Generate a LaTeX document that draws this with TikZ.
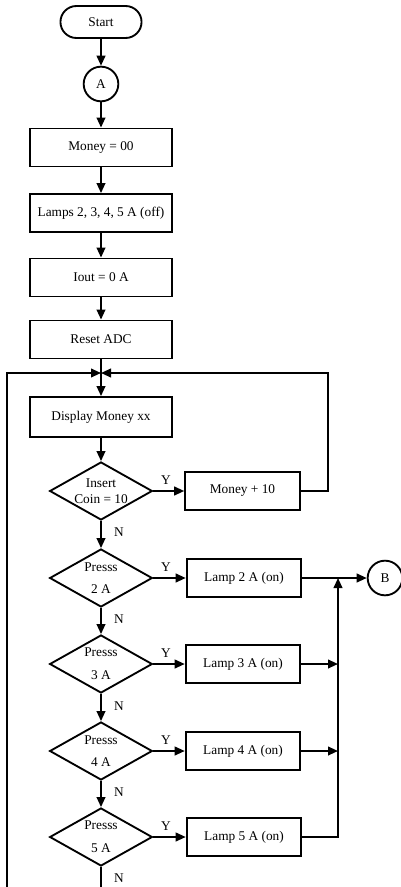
\documentclass[tikz,border=0pt]{standalone}
\usepackage{fontspec}
\setmainfont{Liberation Serif}
\usepackage{tikz}
\usetikzlibrary{shapes,arrows.meta}

\begin{document}
\begin{tikzpicture}[x=0.75pt,y=-0.75pt]
\tikzstyle{term}=[rounded rectangle, minimum width=67.5pt, minimum height=24pt, line width=1.4pt, draw=black]
\tikzstyle{conn}=[circle, minimum size=26pt, inner sep=0pt, line width=1.4pt, draw=black]
\tikzstyle{proc}=[rectangle, minimum width=106pt, minimum height=28.5pt, line width=1.4pt, draw=black]
\tikzstyle{side}=[rectangle, minimum width=86pt, minimum height=28.5pt, line width=1.4pt, draw=black]
\tikzstyle{decision}=[diamond, minimum width=77pt, minimum height=43.5pt, inner sep=0pt, line width=1.4pt, draw=black]
\tikzstyle{lbl}=[inner sep=0pt]
\tikzstyle{flow}=[-{Triangle[length=7.5pt,width=6.5pt]}, line width=1.4pt]
\tikzstyle{wire}=[line width=1.4pt]
\useasboundingbox (0,0) rectangle (400,887);

\node[term] (start) at (101,22) {Start};
\node[conn] (A) at (101,84) {A};
\node[proc] (money) at (101,147.5) {Money = 00};
\node[proc] (lamps) at (101,213) {Lamps 2, 3, 4, 5 A (off)};
\node[proc] (iout) at (101,277.5) {Iout = 0 A};
\node[proc] (reset) at (101,339.5) {Reset ADC};
\coordinate (jn) at (101,373);
\node[proc, minimum height=30pt] (display) at (101,417) {Display Money xx};

\node[decision] (coin) at (101,491) [label={[align=center]center:Insert\\Coin = 10}]{};
\node[side] (add) at (242.5,491) {Money + 10};
\node[decision] (p2) at (101,578) [label={[align=center]center:Presss\\[5pt]2 A}]{};
\node[side] (lamp2) at (244,578) {Lamp 2 A (on)};
\node[conn] (B) at (385,578) {B};
\node[decision] (p3) at (101,664) [label={[align=center]center:Presss\\[5pt]3 A}]{};
\node[side] (lamp3) at (243,664) {Lamp 3 A (on)};
\node[decision] (p4) at (101,751) [label={[align=center]center:Presss\\[5pt]4 A}]{};
\node[side] (lamp4) at (243,751) {Lamp 4 A (on)};
\node[decision] (p5) at (101,837) [label={[align=center]center:Presss\\[5pt]5 A}]{};
\node[side] (lamp5) at (244,837) {Lamp 5 A (on)};

% Y / N marks
\node[lbl] (y1) at (166,480) {Y};
\node[lbl] (y2) at (166,567) {Y};
\node[lbl] (y3) at (166,653) {Y};
\node[lbl] (y4) at (166,740) {Y};
\node[lbl] (y5) at (166,826) {Y};
\node[lbl] (n1) at (119,532) {N};
\node[lbl] (n2) at (119,619) {N};
\node[lbl] (n3) at (119,706) {N};
\node[lbl] (n4) at (119,792) {N};
\node[lbl] (n5) at (119,878) {N};

\coordinate (bus) at (338,578);
\coordinate (bus3) at (338,664);
\coordinate (bus4) at (338,751);
\coordinate (bus5) at (338,837);
\coordinate (back) at (328,373);
\coordinate (endN) at (101,890);
\coordinate (loop) at (7,890);

\draw[flow] (start) -- (A);
\draw[flow] (A) -- (money);
\draw[flow] (money) -- (lamps);
\draw[flow] (lamps) -- (iout);
\draw[flow] (iout) -- (reset);
\draw[wire] (reset) -- (jn);
\draw[flow] (jn) -- (display);
\draw[flow] (display) -- (coin);

\draw[flow] (coin) -- (add);
\draw[flow] (add.east) -| (back) -- (jn);
\draw[flow] (coin) -- (p2);
\draw[flow] (p2) -- (p3);
\draw[flow] (p3) -- (p4);
\draw[flow] (p4) -- (p5);
\draw[wire] (p5) -- (endN);
\draw[flow] (loop) |- (jn);

\draw[flow] (p2) -- (lamp2);
\draw[flow] (p3) -- (lamp3);
\draw[flow] (p4) -- (lamp4);
\draw[flow] (p5) -- (lamp5);
\draw[flow] (lamp2) -- (B);
\draw[flow] (lamp3) -- (bus3);
\draw[flow] (lamp4) -- (bus4);
\draw[flow] (lamp5) -- (bus5) -- (bus);

\end{tikzpicture}
\end{document}
